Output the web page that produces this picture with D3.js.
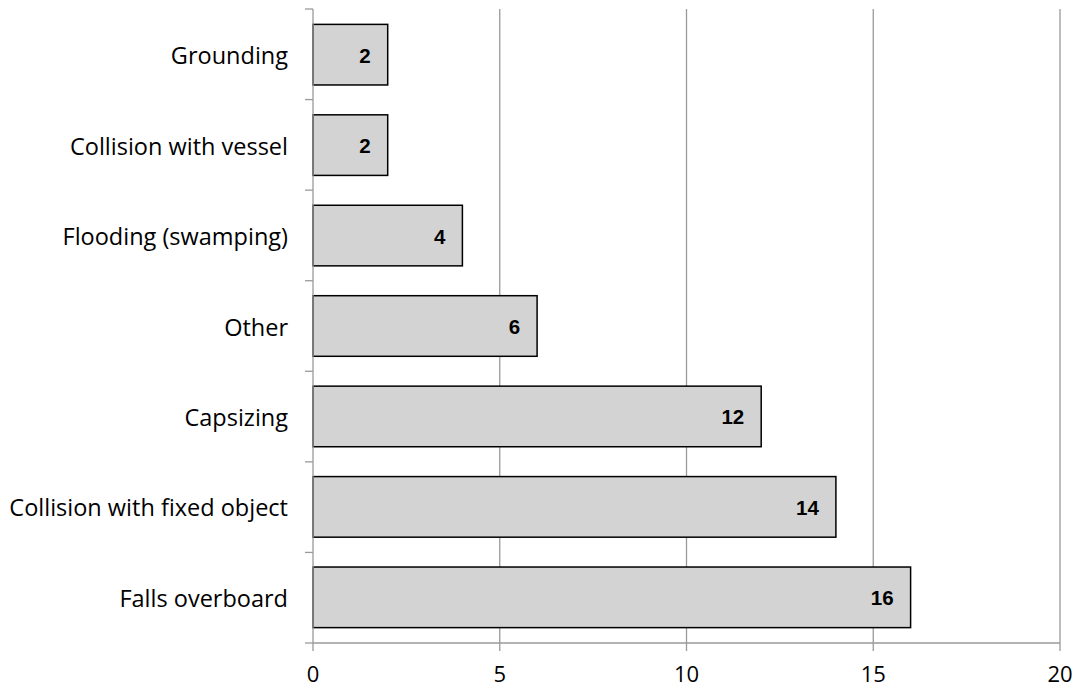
<!DOCTYPE html>
<html><head><meta charset="utf-8">
<script src="https://cdn.jsdelivr.net/npm/d3@7"></script>
<style>body{margin:0;background:#fff}</style>
</head><body>
<svg id="chart" width="1076" height="689"></svg>
<script>
const categories = ["Grounding","Collision with vessel","Flooding (swamping)","Other","Capsizing","Collision with fixed object","Falls overboard"];
const values = [2,2,4,6,12,14,16];
const xTicks = [0,5,10,15,20];

const svg = d3.select("#chart");
const pLeft = 313, pRight = 1060, pTop = 9, pBottom = 643;
const x = d3.scaleLinear().domain([0,20]).range([pLeft,pRight]);
const y = d3.scaleBand().domain(categories).range([pTop,pBottom]).paddingInner(0.33).paddingOuter(0.17);

// gridlines
svg.append("g").selectAll("line").data(xTicks.filter(d=>d>0)).join("line")
  .attr("x1",d=>x(d)).attr("x2",d=>x(d)).attr("y1",pTop).attr("y2",pBottom+8)
  .attr("stroke","#9a9a9a").attr("stroke-width",1.3);

// x axis line + tick at 0
svg.append("line").attr("x1",pLeft).attr("x2",pRight).attr("y1",pBottom).attr("y2",pBottom)
  .attr("stroke","#9a9a9a").attr("stroke-width",1.3);
svg.append("line").attr("x1",pLeft).attr("x2",pLeft).attr("y1",pBottom).attr("y2",pBottom+8)
  .attr("stroke","#9a9a9a").attr("stroke-width",1.3);

// bars
svg.append("g").selectAll("rect").data(values).join("rect")
  .attr("x",x(0)).attr("y",(d,i)=>y(categories[i]))
  .attr("width",d=>x(d)-x(0)).attr("height",y.bandwidth())
  .attr("fill","#d3d3d3").attr("stroke","#000").attr("stroke-width",1.5);

// y axis
svg.append("line").attr("x1",pLeft).attr("x2",pLeft).attr("y1",pTop).attr("y2",pBottom)
  .attr("stroke","#9a9a9a").attr("stroke-width",1.3);
const bounds = d3.range(categories.length+1).map(i=>pTop + i*(pBottom-pTop)/categories.length);
svg.append("g").selectAll("line").data(bounds).join("line")
  .attr("x1",pLeft-8).attr("x2",pLeft).attr("y1",d=>d).attr("y2",d=>d)
  .attr("stroke","#9a9a9a").attr("stroke-width",1.3);

// category labels
svg.append("g").selectAll("text").data(categories).join("text")
  .attr("x",288).attr("y",d=>y(d)+y.bandwidth()/2+9.5)
  .attr("text-anchor","end").attr("font-family","'Open Sans', sans-serif").attr("font-size",23.5)
  .attr("fill","#000").text(d=>d);

// value labels
svg.append("g").selectAll("text").data(values).join("text")
  .attr("x",d=>x(d)-17).attr("y",(d,i)=>y(categories[i])+y.bandwidth()/2+8)
  .attr("text-anchor","end").attr("font-family","'Liberation Sans', Arial, sans-serif")
  .attr("font-weight","bold").attr("font-size",20.5).attr("fill","#000").text(d=>d);

// x tick labels
svg.append("g").selectAll("text").data(xTicks).join("text")
  .attr("x",d=>x(d)).attr("y",682).attr("text-anchor","middle")
  .attr("font-family","'Open Sans', sans-serif").attr("font-size",22).attr("fill","#000").text(d=>d);
</script>
</body></html>
